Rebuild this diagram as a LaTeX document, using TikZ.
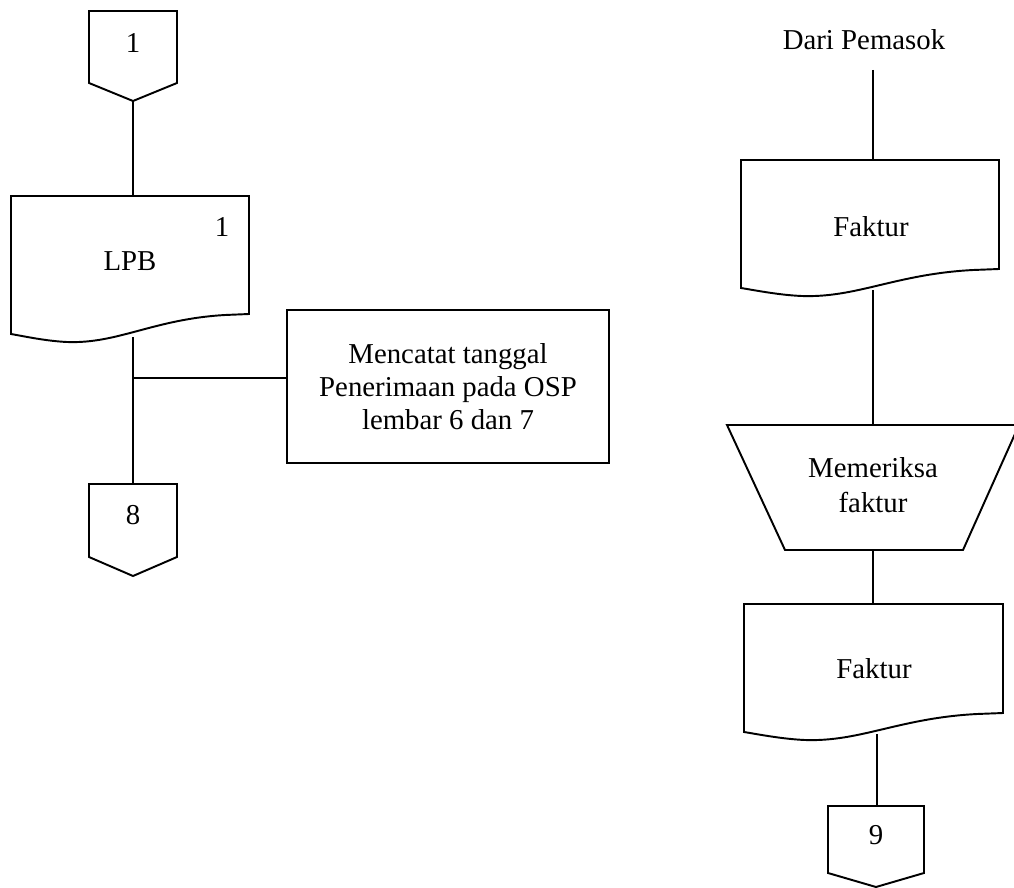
\documentclass[tikz,border=0pt]{standalone}
\usepackage{fontspec}
\setmainfont{Liberation Serif}
\tikzset{
  shp/.style={draw=black, line width=1.45pt, line join=miter},
  conn/.style={draw=black, line width=1.45pt},
  lbl/.style={inner sep=0pt, font=\fontsize{21.6}{25}\selectfont, align=center},
}
% document shape: left, top, right, right-bottom y, left-bottom y
\newcommand{\mydoc}[5]{%
  \path[shp] (#1,#2) -- (#3,#2) -- (#3,#4) -- ({#3-0.1*(#3-#1)},{#4+1})
    .. controls ({#1+0.6*(#3-#1)},{#4+5}) and ({#1+0.45*(#3-#1)},{#5+10}) .. ({#1+0.235*(#3-#1)},{#5+8})
    .. controls ({#1+0.15*(#3-#1)},{#5+7}) and ({#1+0.07*(#3-#1)},{#5+3}) .. (#1,#5) -- cycle;}
% off-page connector: left, top, right, side-bottom y, point y
\newcommand{\myoff}[5]{%
  \path[shp] (#1,#2) -- (#3,#2) -- (#3,#4) -- ({(#1+#3)/2},#5) -- (#1,#4) -- cycle;}
\begin{document}
\begin{tikzpicture}[x=0.75pt,y=-0.75pt]
\useasboundingbox (0,0) rectangle (1014,888);
\clip (0,0) rectangle (1014,888);
% ---- left column ----
\myoff{89}{11}{177}{83}{101}
\node[lbl] (t1) at (133,43) {1};
\coordinate (c1bot) at (133,101);
\mydoc{11}{196}{249}{314}{334}
\coordinate (lpbtop) at (133,196);
\coordinate (lpbbot) at (133,337);
\node[lbl] (lpbno) at (222,227) {1};
\node[lbl] (lpb) at (130,261) {LPB};
\node[shp, lbl, minimum width=241.5pt, minimum height=114.75pt] (proc) at (448,386.5)
  {Mencatat tanggal\\Penerimaan pada OSP\\lembar 6 dan 7};
\coordinate (junc) at (133,378);
\myoff{89}{484}{177}{557}{576}
\node[lbl] (t8) at (133,515) {8};
\coordinate (c8top) at (133,484);
\draw[conn] (c1bot) -- (lpbtop);
\draw[conn] (lpbbot) -- (c8top);
\draw[conn] (junc) -- (junc -| proc.west);
% ---- right column ----
\node[lbl] (src) at (864,40) {Dari Pemasok};
\coordinate (srcend) at (873,70);
\mydoc{741}{160}{999}{269}{288}
\coordinate (f1top) at (873,160);
\coordinate (f1bot) at (873,290);
\node[lbl] (f1) at (871,227) {Faktur};
\path[shp] (727,425) -- (1019,425) -- (963,550) -- (785,550) -- cycle;
\coordinate (trtop) at (873,425);
\coordinate (trbot) at (873,550);
\node[lbl, font=\fontsize{21.6}{26}\selectfont] (tr) at (873,485) {Memeriksa\\faktur};
\mydoc{744}{604}{1003}{713}{732}
\coordinate (f2top) at (873,604);
\coordinate (f2bot) at (877,734);
\node[lbl] (f2) at (874,669) {Faktur};
\myoff{828}{806}{924}{873}{887}
\coordinate (c9top) at (877,806);
\node[lbl] (t9) at (876,835) {9};
\draw[conn] (srcend) -- (f1top);
\draw[conn] (f1bot) -- (trtop);
\draw[conn] (trbot) -- (f2top);
\draw[conn] (f2bot) -- (c9top);
\end{tikzpicture}
\end{document}
